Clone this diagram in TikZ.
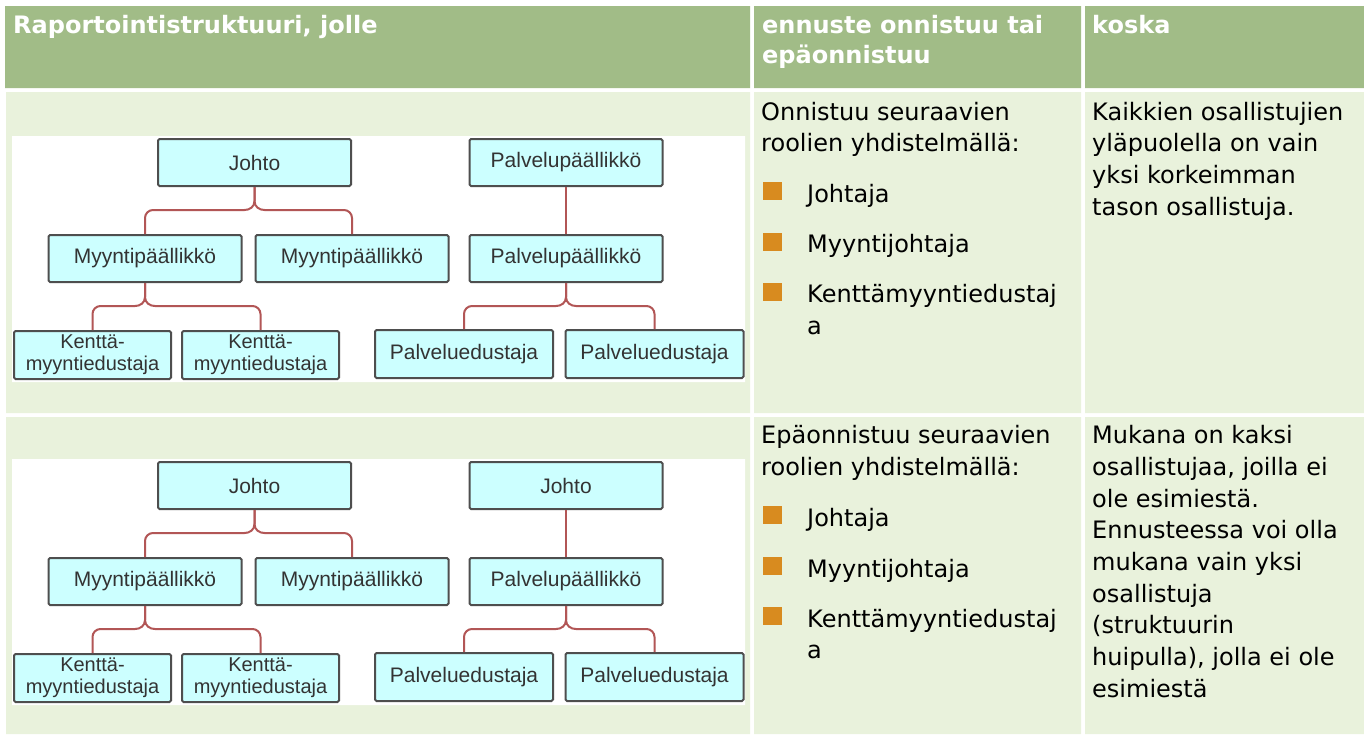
\documentclass[tikz,border=0pt]{standalone}
\usepackage{fontspec}
\setmainfont{DejaVu Sans}
\newfontfamily\boxfont{Liberation Sans}
\usepackage{tikz}
\definecolor{headgreen}{RGB}{161,188,135}
\definecolor{bodygreen}{RGB}{233,242,220}
\definecolor{boxcyan}{RGB}{204,255,255}
\definecolor{boxline}{RGB}{78,78,78}
\definecolor{boxtext}{RGB}{51,51,51}
\definecolor{linkred}{RGB}{178,86,86}
\definecolor{bulletorange}{RGB}{216,139,31}
\tikzstyle{role}=[rectangle,draw=boxline,fill=boxcyan,line width=2pt,rounded corners=1.5pt,minimum width=193pt,minimum height=47pt,inner sep=0pt,text=boxtext,font=\boxfont\fontsize{21}{23}\selectfont]
\tikzstyle{field}=[role,minimum width=157pt,minimum height=48pt,align=center,font=\boxfont\fontsize{20}{22}\selectfont]
\tikzstyle{agent}=[role,minimum width=178pt,minimum height=48pt]
\tikzstyle{link}=[draw=linkred,line width=2pt]
\tikzstyle{bullet}=[rectangle,fill=bulletorange,minimum width=19pt,minimum height=18pt,inner sep=0pt]
\tikzstyle{head}=[anchor=north west,inner sep=0pt,text=white,align=left,font=\bfseries\fontsize{24}{30}\selectfont]
\tikzstyle{cell}=[anchor=north west,inner sep=0pt,align=left,font=\fontsize{24}{31.7}\selectfont]

\begin{document}
\begin{tikzpicture}[x=1pt,y=-1pt]
\useasboundingbox (0,0) rectangle (1364,734);
\fill[white] (0,0) rectangle (1364,734);
\fill[headgreen] (5,6) rectangle (750,88) (754,6) rectangle (1081,88) (1085,6) rectangle (1364,88);
\fill[bodygreen] (6,92) rectangle (750,413) (754,92) rectangle (1081,413) (1085,92) rectangle (1364,413);
\fill[bodygreen] (6,417) rectangle (750,734) (754,417) rectangle (1081,734) (1085,417) rectangle (1364,734);
\fill[white] (12,136) rectangle (745,382) (12,459) rectangle (745,705);

\node[head] at (13, 12) (h1) {\strut Raportointistruktuuri, jolle};
\node[head] at (762, 12) (h2) {\strut ennuste onnistuu tai\\epäonnistuu};
\node[head] at (1092, 12) (h3) {\strut koska};

\node[role] at (254.5, 162.5) (johtoA) {Johto};
\node[role] at (145, 258.5) (myyA) {Myyntipäällikkö};
\node[role] at (352, 258.5) (myyB) {Myyntipäällikkö};
\node[field] at (92.5, 355) (kenA) {Kenttä-\\myyntiedustaja};
\node[field] at (260.5, 355) (kenB) {Kenttä-\\myyntiedustaja};
\node[role] at (566, 162.5) (palA) {Palvelupäällikkö};
\node[role] at (566, 258.5) (palB) {Palvelupäällikkö};
\node[agent] at (464, 354) (pedA) {Palveluedustaja};
\node[agent] at (654.5, 354) (pedB) {Palveluedustaja};
\draw[link] (johtoA.south) -- ++(0,14) .. controls +(0,6) and +(5,0) .. ++(-10,9) [rounded corners=8pt] -| (myyA.north);
\draw[link] (johtoA.south) -- ++(0,14) .. controls +(0,6) and +(-5,0) .. ++(10,9) [rounded corners=8pt] -| (myyB.north);
\draw[link] (myyA.south) -- ++(0,14) .. controls +(0,6) and +(5,0) .. ++(-10,9) [rounded corners=8pt] -| (kenA.north);
\draw[link] (myyA.south) -- ++(0,14) .. controls +(0,6) and +(-5,0) .. ++(10,9) [rounded corners=8pt] -| (kenB.north);
\draw[link] (palA) -- (palB);
\draw[link] (palB.south) -- ++(0,14) .. controls +(0,6) and +(5,0) .. ++(-10,9) [rounded corners=8pt] -| (pedA.north);
\draw[link] (palB.south) -- ++(0,14) .. controls +(0,6) and +(-5,0) .. ++(10,9) [rounded corners=8pt] -| (pedB.north);

\node[cell] at (761, 97.8) (onA) {\strut Onnistuu seuraavien\\roolien yhdistelmällä:};
\node[bullet] at (772.5, 191) (buA) {};
\node[bullet] at (772.5, 241.8) (buB) {};
\node[bullet] at (772.5, 291.8) (buC) {};
\node[cell] at (807, 179.8) (itA) {\strut Johtaja};
\node[cell] at (807, 230.6) (itB) {\strut Myyntijohtaja};
\node[cell] at (807, 280.6) (itC) {\strut Kenttämyyntiedustaj\\a};
\node[cell] at (1092, 97.8) (syA) {\strut Kaikkien osallistujien\\yläpuolella on vain\\yksi korkeimman\\tason osallistuja.};

\node[role] at (254.5, 485.5) (johtoC) {Johto};
\node[role] at (145, 581.5) (myyC) {Myyntipäällikkö};
\node[role] at (352, 581.5) (myyD) {Myyntipäällikkö};
\node[field] at (92.5, 678) (kenC) {Kenttä-\\myyntiedustaja};
\node[field] at (260.5, 678) (kenD) {Kenttä-\\myyntiedustaja};
\node[role] at (566, 485.5) (johtoD) {Johto};
\node[role] at (566, 581.5) (palC) {Palvelupäällikkö};
\node[agent] at (464, 677) (pedC) {Palveluedustaja};
\node[agent] at (654.5, 677) (pedD) {Palveluedustaja};
\draw[link] (johtoC.south) -- ++(0,14) .. controls +(0,6) and +(5,0) .. ++(-10,9) [rounded corners=8pt] -| (myyC.north);
\draw[link] (johtoC.south) -- ++(0,14) .. controls +(0,6) and +(-5,0) .. ++(10,9) [rounded corners=8pt] -| (myyD.north);
\draw[link] (myyC.south) -- ++(0,14) .. controls +(0,6) and +(5,0) .. ++(-10,9) [rounded corners=8pt] -| (kenC.north);
\draw[link] (myyC.south) -- ++(0,14) .. controls +(0,6) and +(-5,0) .. ++(10,9) [rounded corners=8pt] -| (kenD.north);
\draw[link] (johtoD) -- (palC);
\draw[link] (palC.south) -- ++(0,14) .. controls +(0,6) and +(5,0) .. ++(-10,9) [rounded corners=8pt] -| (pedC.north);
\draw[link] (palC.south) -- ++(0,14) .. controls +(0,6) and +(-5,0) .. ++(10,9) [rounded corners=8pt] -| (pedD.north);

\node[cell] at (761, 421.3) (epA) {\strut Epäonnistuu seuraavien\\roolien yhdistelmällä:};
\node[bullet] at (772.5, 515) (buD) {};
\node[bullet] at (772.5, 565.8) (buE) {};
\node[bullet] at (772.5, 615.8) (buF) {};
\node[cell] at (807, 503.8) (itD) {\strut Johtaja};
\node[cell] at (807, 554.6) (itE) {\strut Myyntijohtaja};
\node[cell] at (807, 604.6) (itF) {\strut Kenttämyyntiedustaj\\a};
\node[cell] at (1092, 421.3) (syB) {\strut Mukana on kaksi\\osallistujaa, joilla ei\\ole esimiestä.\\Ennusteessa voi olla\\mukana vain yksi\\osallistuja\\(struktuurin\\huipulla), jolla ei ole\\esimiestä};
\end{tikzpicture}
\end{document}
